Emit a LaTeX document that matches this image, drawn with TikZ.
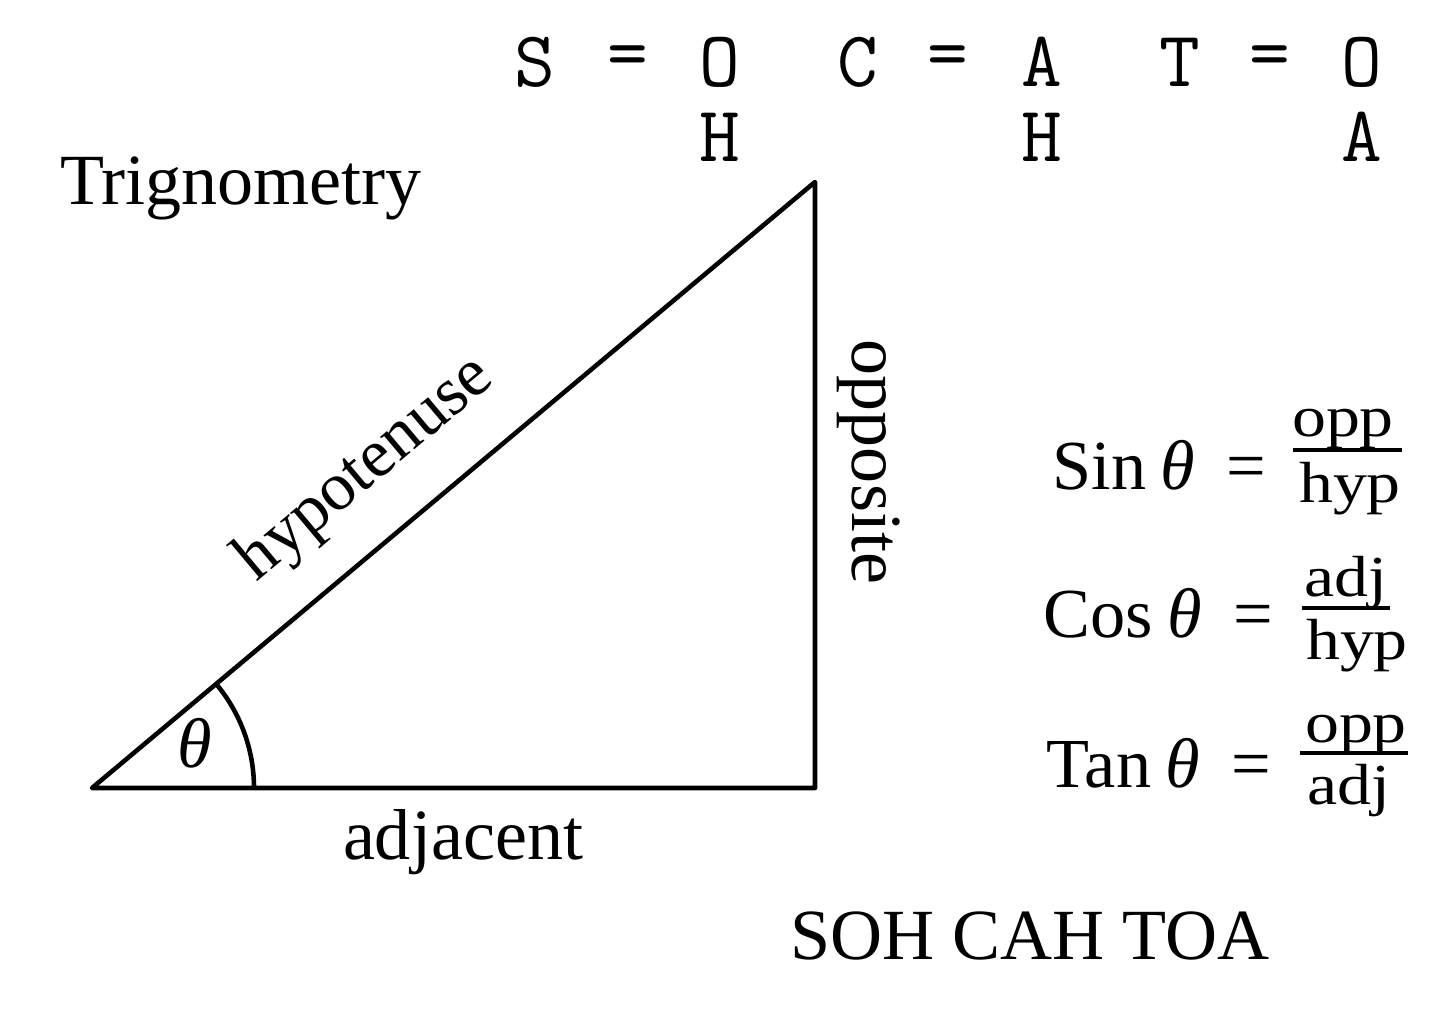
\documentclass[tikz,border=0pt]{standalone}
\usepackage{fontspec}
\setmainfont{Liberation Serif}
\newfontfamily\fracfont[FakeStretch=1.17]{Liberation Serif}
\usepackage{tikz}
\usetikzlibrary{positioning, calc}

\begin{document}
\begin{tikzpicture}[
    edge/.style={line width=1.3pt, line join=round},
    lbl/.style={font=\fontsize{20.5}{24}\selectfont},
    mono/.style={font=\fontsize{22.5}{26}\selectfont\ttfamily},
    formula/.style={font=\fontsize{20}{24}\selectfont, anchor=base west, inner sep=0pt},
    part/.style={font={\fracfont\fontsize{16.5}{20}\selectfont}, anchor=base, inner sep=0pt},
    bar/.style={line width=1pt}
  ]
    \useasboundingbox (0,0) rectangle (14.40,10.28);

    % triangle
    \coordinate (A) at (0.92,2.40);
    \coordinate (B) at (8.15,2.40);
    \coordinate (C) at (8.15,8.46);
    \draw[edge] (A) -- (B) -- (C) -- cycle;
    \draw[edge] ($(A)+(0:1.62)$) arc[start angle=0, end angle=40, radius=1.62];
    \node[font=\fontsize{20}{24}\selectfont] (theta) at (1.95,2.85) {\textit{θ}};

    % side labels
    \node[lbl, anchor=base] (title) at (2.41,8.23) {Trignometry};
    \node[lbl, anchor=base] (adj) at (4.63,1.68) {adjacent};
    \node[lbl, rotate=40, font=\fontsize{19.5}{24}\selectfont] (hyp) at (3.66,5.58) {hypotenuse};
    \node[lbl, rotate=-90] (opp) at (8.69,5.66) {opposite};
    \node[lbl, anchor=base] (soh) at (10.30,0.68) {SOH CAH TOA};

    % mnemonic
    \foreach \ch/\x in {S/5.35, =/6.28, O/7.20, C/8.58, =/9.48, A/10.42, T/11.80, =/12.70, O/13.62}
        \node[mono] at (\x,9.66) {\ch};
    \foreach \ch/\x in {H/7.20, H/10.42, A/13.62}
        \node[mono] at (\x,8.91) {\ch};

    % ratios
    \node[formula] (sin) at (10.52,5.38) {Sin\hspace{0.2em}\textit{θ}\hspace{0.45em}=};
    \node[part] (sinnum) at (13.43,5.91) {opp};
    \node[part] (sinden) at (13.50,5.25) {hyp};
    \draw[bar] (12.93,5.78) -- (14.02,5.78);

    \node[formula] (cos) at (10.43,3.90) {Cos\hspace{0.2em}\textit{θ}\hspace{0.45em}=};
    \node[part] (cosnum) at (13.46,4.31) {adj};
    \node[part] (cosden) at (13.57,3.68) {hyp};
    \draw[bar] (13.02,4.20) -- (13.90,4.20);

    \node[formula] (tan) at (10.46,2.40) {Tan\hspace{0.2em}\textit{θ}\hspace{0.45em}=};
    \node[part] (tannum) at (13.56,2.85) {opp};
    \node[part] (tanden) at (13.49,2.23) {adj};
    \draw[bar] (13.00,2.75) -- (14.08,2.75);
\end{tikzpicture}
\end{document}
